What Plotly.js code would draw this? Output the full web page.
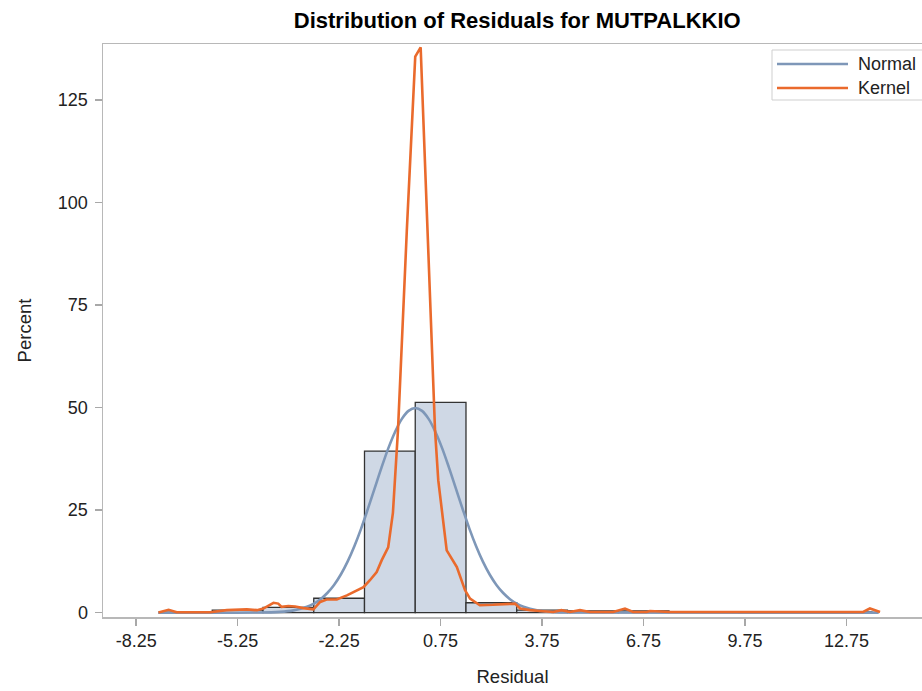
<!DOCTYPE html>
<html>
<head>
<meta charset="utf-8">
<script src="https://cdn.plot.ly/plotly-3.0.1.min.js"></script>
<style>html,body{margin:0;padding:0;background:#fff;overflow:hidden;}#chart{width:922px;height:691px;}</style>
</head>
<body>
<div id="chart"></div>
<script>
// Histogram bins (centers, width 1.5) and percents
var binCenters = [-6.75, -5.25, -3.75, -2.25, -0.75, 0.75, 2.25, 3.75, 5.25, 6.75, 12.75];
var binPercents = [0.1, 0.6, 1.3, 3.5, 39.4, 51.3, 2.4, 0.6, 0.4, 0.4, 0.15];

// Normal density curve
var normalX = [-7.6, -4.8, -4.0, -3.6, -3.2, -3.0, -2.8, -2.6, -2.4, -2.2, -2.0, -1.8, -1.6, -1.4, -1.2, -1.0, -0.8, -0.6, -0.4, -0.2, 0.0,
               0.2, 0.4, 0.6, 0.8, 1.0, 1.2, 1.4, 1.6, 1.8, 2.0, 2.2, 2.4, 2.6, 2.8, 3.0, 3.2, 3.6, 4.0, 4.8, 13.7];
var normalY = [0, 0.02, 0.19, 0.55, 1.43, 2.19, 3.28, 4.78, 6.75, 9.3, 12.45, 16.2, 20.5, 25.3, 30.3, 35.3, 40.0, 44.0, 47.2, 49.2, 49.9,
               49.2, 47.2, 44.0, 40.0, 35.3, 30.3, 25.3, 20.5, 16.2, 12.45, 9.3, 6.75, 4.78, 3.28, 2.19, 1.43, 0.55, 0.19, 0.02, 0];

// Kernel density curve
var kernelX = [-7.59, -7.29, -7.05, -6.06, -5.57, -4.98, -4.68, -4.49, -4.19, -4.05, -3.95, -3.75, -3.55, -3.31, -3.01, -2.81, -2.62, -2.32, -2.02, -1.73, -1.53, -1.34, -1.14, -0.99, -0.80, -0.66, -0.51, -0.25, 0.00, 0.16, 0.37, 0.585, 0.68, 0.93, 1.23, 1.47, 1.62, 1.91, 2.30, 2.70, 2.95, 3.10, 3.39, 3.69, 4.08, 4.32, 4.57, 4.87, 5.16, 5.85, 6.20, 6.44, 6.84, 6.94, 7.53, 13.24, 13.44, 13.74];
var kernelY = [0.0, 0.7, 0.1, 0.1, 0.6, 0.8, 0.6, 1.0, 2.4, 2.2, 1.4, 1.6, 1.5, 1.1, 0.8, 2.6, 3.2, 3.2, 4.2, 5.4, 6.2, 7.9, 9.9, 12.8, 15.9, 24.3, 44.5, 93.0, 135.6, 137.9, 90.8, 44.5, 32.3, 15.2, 11.1, 5.5, 3.4, 1.8, 1.9, 2.0, 2.2, 1.0, 0.6, 0.4, 0.15, 0.6, 0.15, 0.6, 0.15, 0.15, 1.0, 0.15, 0.15, 0.4, 0.15, 0.15, 1.0, 0.15];

var xTicks = [-8.25, -5.25, -2.25, 0.75, 3.75, 6.75, 9.75, 12.75];
var xTickText = ["-8.25", "-5.25", "-2.25", "0.75", "3.75", "6.75", "9.75", "12.75"];
var yTicks = [0, 25, 50, 75, 100, 125];

var FONT = "'Liberation Sans', Arial, sans-serif";

var traces = [
  {type: 'bar', x: binCenters, y: binPercents, width: 1.5, showlegend: false,
   marker: {color: '#cfd8e5', line: {color: '#333333', width: 1.3}}, hoverinfo: 'skip'},
  {type: 'scatter', mode: 'lines', x: normalX, y: normalY, name: 'Normal', showlegend: false,
   line: {color: '#7e97b8', width: 2.6, shape: 'spline', smoothing: 1}},
  {type: 'scatter', mode: 'lines', x: kernelX, y: kernelY, name: 'Kernel', showlegend: false,
   line: {color: '#ea6a2c', width: 2.6}}
];

function px2x(p){ return (p - 103) / 819; }
function py2y(p){ return (617 - p) / 573; }

var layout = {
  width: 922, height: 691,
  margin: {l: 103, r: 0, t: 44, b: 74},
  paper_bgcolor: '#fff', plot_bgcolor: '#fff',
  font: {family: FONT, size: 18, color: '#222'},
  title: {text: '<b>Distribution of Residuals for MUTPALKKIO</b>', font: {family: FONT, size: 22, color: '#000'},
          x: 0.561, xanchor: 'center', y: 0.971, yanchor: 'middle'},
  bargap: 0,
  showlegend: false,
  xaxis: {range: [-9.23, 14.98], tickvals: xTicks, ticktext: xTickText, ticks: 'outside', ticklen: 7,
          tickcolor: '#a8a8a8', tickwidth: 1.5, showgrid: false, zeroline: false,
          showline: true, linecolor: '#b8b8b8', linewidth: 1.5, mirror: true,
          tickfont: {family: FONT, size: 18, color: '#222'},
          title: {text: 'Residual', font: {family: FONT, size: 18.5, color: '#222'}, standoff: 20}},
  yaxis: {range: [-1.07, 138.7], tickvals: yTicks, ticks: 'outside', ticklen: 7,
          tickcolor: '#a8a8a8', tickwidth: 1.5, showgrid: false, zeroline: false,
          showline: true, linecolor: '#b8b8b8', linewidth: 1.5, ticklabelstandoff: 3,
          tickfont: {family: FONT, size: 18, color: '#222'},
          title: {text: 'Percent', font: {family: FONT, size: 18.5, color: '#222'}, standoff: 21}},
  shapes: [
    {type: 'rect', xref: 'paper', yref: 'paper', x0: px2x(772), x1: px2x(940), y0: py2y(100), y1: py2y(50),
     line: {color: '#cfcfcf', width: 1}, fillcolor: 'rgba(255,255,255,0)'},
    {type: 'line', xref: 'paper', yref: 'paper', x0: px2x(777), x1: px2x(848), y0: py2y(64), y1: py2y(64),
     line: {color: '#7e97b8', width: 2.6}},
    {type: 'line', xref: 'paper', yref: 'paper', x0: px2x(777), x1: px2x(848), y0: py2y(88), y1: py2y(88),
     line: {color: '#ea6a2c', width: 2.6}}
  ],
  annotations: [
    {xref: 'paper', yref: 'paper', x: px2x(856), y: py2y(64), xanchor: 'left', yanchor: 'middle', showarrow: false,
     text: 'Normal', font: {family: FONT, size: 18, color: '#222'}},
    {xref: 'paper', yref: 'paper', x: px2x(856), y: py2y(88), xanchor: 'left', yanchor: 'middle', showarrow: false,
     text: 'Kernel', font: {family: FONT, size: 18, color: '#222'}}
  ]
};

Plotly.newPlot('chart', traces, layout, {displayModeBar: false, staticPlot: true});
</script>
</body>
</html>
